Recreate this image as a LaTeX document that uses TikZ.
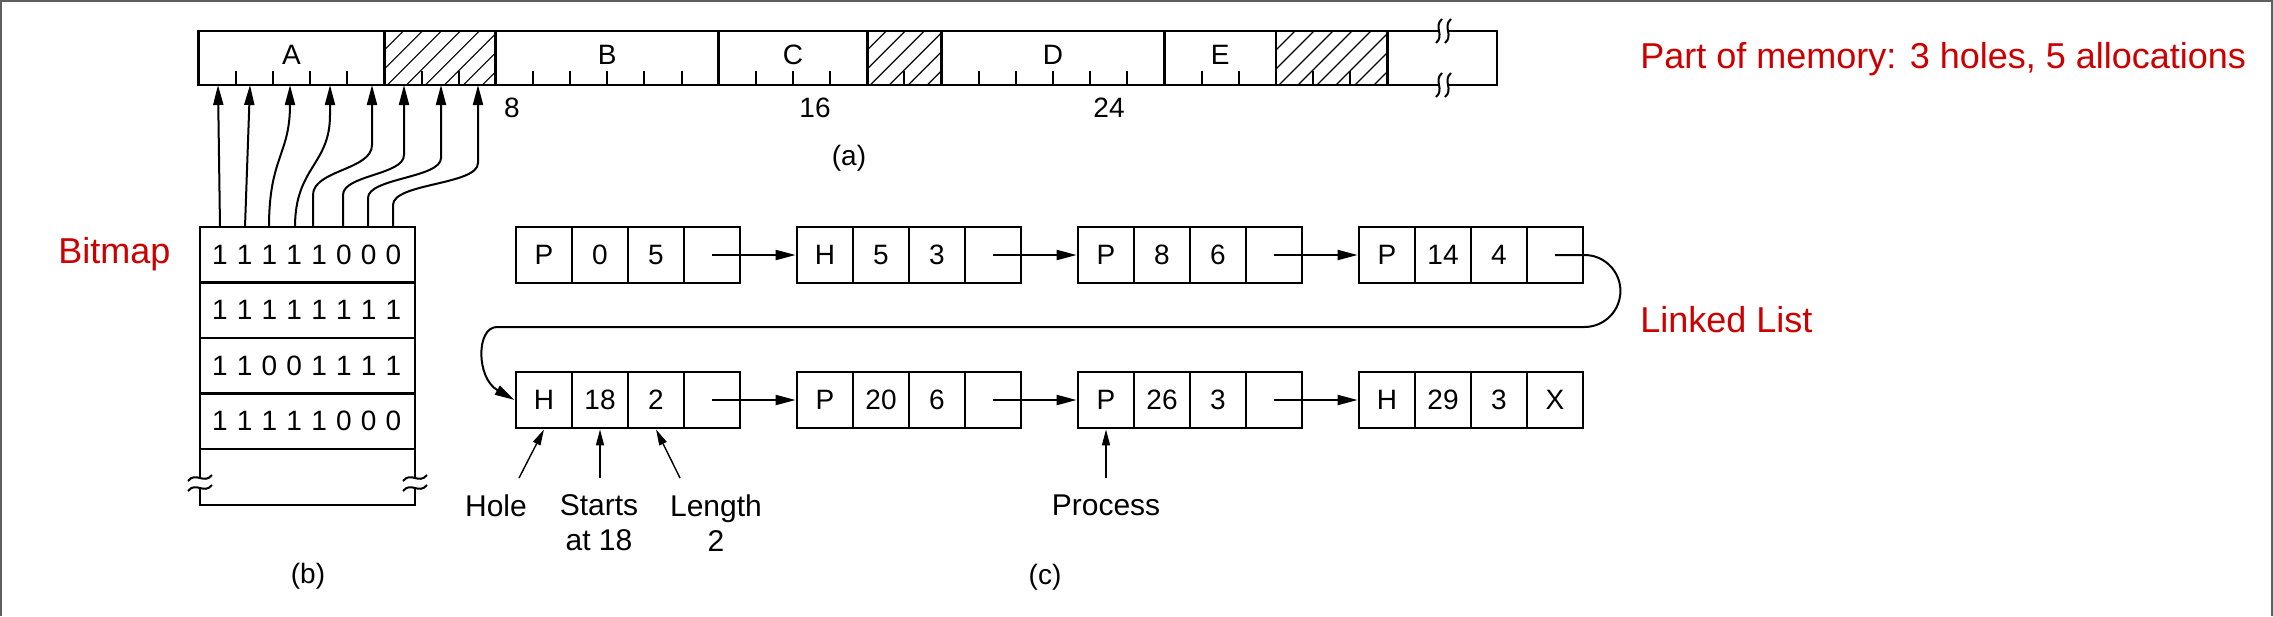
\documentclass[tikz,border=0pt]{standalone}
\usepackage{fontspec}
\setmainfont{Liberation Sans}
\usetikzlibrary{arrows.meta,calc}
\definecolor{redtxt}{RGB}{204,0,0}
\definecolor{framegray}{RGB}{95,95,95}
\begin{document}
\begin{tikzpicture}[x=0.5pt,y=-0.5pt,
  box/.style={line width=1.4pt},
  cell/.style={draw,line width=1.4pt,minimum width=28pt,minimum height=28pt,inner sep=0pt,font=\fontsize{14}{16}\selectfont},
  txt/.style={inner sep=0pt,font=\fontsize{14}{16}\selectfont},
  note/.style={inner sep=0pt,align=center,font=\fontsize{15}{17.5}\selectfont},
  redlbl/.style={inner sep=0pt,text=redtxt,font=\fontsize{18}{21}\selectfont},
  ptr/.style={line width=1pt,-{Triangle[length=10pt,width=5pt]}},
  ann/.style={line width=0.7pt,-{Triangle[length=8pt,width=4pt]}},
  tickline/.style={line width=1pt},
  hatchline/.style={line width=0.6pt},
  brk/.style={line width=1pt}
]
\useasboundingbox (0,0) rectangle (2273,616);
% frame
\draw[framegray,line width=1.2pt] (1,616) -- (1,1) -- (2272,1) -- (2272,616);

% ---------------- memory bar (a)
\def\xo{198.6}\def\un{37.15}
\foreach \a/\b in {5/8,18/20,29/32}{
  \begin{scope}
    \clip (\xo+\a*\un,31) rectangle (\xo+\b*\un,85);
    \foreach \k in {0,...,10} \draw[hatchline] (\xo+\a*\un-54+\k*19,85) -- ++(54,-54);
  \end{scope}
}
\draw[box] (\xo,31) rectangle (1497,85);
\foreach \p in {5,8,14,18,20,26,29,32} \draw[box] (\xo+\p*\un,31) -- (\xo+\p*\un,85);
\foreach \p in {1,2,3,4,6,7,9,10,11,12,13,15,16,17,19,21,22,23,24,25,27,28,30,31}
  \draw[tickline] (\xo+\p*\un,85) -- (\xo+\p*\un,71);
% break marks on the bar
\foreach \y in {31,85}{
  \draw[white,line width=2.5pt] (1439,\y) -- (1448,\y);
  \foreach \x in {1439,1448} \draw[brk] (\x+3,\y-12) .. controls (\x-6,\y-4) and (\x+6,\y+4) .. (\x-3,\y+12);
}
\node[txt] (lA) at (\xo+2.5*\un,55) {A};
\node[txt] (lB) at (\xo+11*\un,55) {B};
\node[txt] (lC) at (\xo+16*\un,55) {C};
\node[txt] (lD) at (\xo+23*\un,55) {D};
\node[txt] (lE) at (\xo+27.5*\un,55) {E};
\node[txt] (l8) at (512,108) {8};
\node[txt] (l16) at (815,108) {16};
\node[txt] (l24) at (1109,108) {24};
\node[txt] (capa) at (849,158) {(a)};

% ---------------- bitmap (b)
\draw[box] (200,227) rectangle (415,505);
\foreach \y in {282.5,338,393.5,449} \draw[box] (200,\y) -- (415,\y);
\foreach \x in {200,415}{
  \draw[white,line width=2.5pt] (\x,478) -- (\x,488);
  \foreach \y in {478,488} \draw[brk] (\x-12,\y+3) .. controls (\x-4,\y-7) and (\x+4,\y+7) .. (\x+12,\y-3);
}
\foreach \r/\yy/\bits in {1/254.75/{1,1,1,1,1,0,0,0},2/310.25/{1,1,1,1,1,1,1,1},3/365.75/{1,1,0,0,1,1,1,1},4/421.25/{1,1,1,1,1,0,0,0}}{
  \foreach \v [count=\i] in \bits
    \node[txt] (bit\r-\i) at (220+24.76*\i-24.76,\yy) {\v};
}
\node[txt] (capb) at (308,576) {(b)};
\node[redlbl,anchor=base west] (bmlbl) at (58,263) {Bitmap};

% arrows bitmap -> memory
\foreach \i/\x in {1/220,2/245,3/269,4/295,5/313,6/343,7/368,8/393} \coordinate (bt\i) at (\x,227);
\foreach \i/\x in {1/218,2/250,3/290,4/330,5/372,6/404,7/441,8/478} \coordinate (m\i) at (\x,85);
\draw[ptr] (bt1) -- (m1);
\draw[ptr] (bt2) -- (m2);
\draw[ptr] (bt3) .. controls +(0,-70) and +(0,70) .. (m3);
\draw[ptr] (bt4) .. controls +(0,-60) and +(0,50) .. ($(m4)+(0,30)$) -- (m4);
\draw[ptr] (bt5) -- ++(0,-32) .. controls +(0,-25) and +(0,25) .. ($(m5)+(0,60)$) -- (m5);
\draw[ptr] (bt6) -- ++(0,-32) .. controls +(0,-20) and +(0,20) .. ($(m6)+(0,70)$) -- (m6);
\draw[ptr] (bt7) -- ++(0,-29) .. controls +(0,-20) and +(0,20) .. ($(m7)+(0,73)$) -- (m7);
\draw[ptr] (bt8) -- ++(0,-22) .. controls +(0,-22) and +(0,22) .. ($(m8)+(0,78)$) -- (m8);

% ---------------- linked list (c)
\foreach \r/\k/\a/\b/\c in {1/1/P/0/5,1/2/H/5/3,1/3/P/8/6,1/4/P/14/4,2/1/H/18/2,2/2/P/20/6,2/3/P/26/3,2/4/H/29/3}{
  \pgfmathsetmacro{\bx}{516+281*(\k-1)}
  \pgfmathsetmacro{\by}{\r==1 ? 255 : 400}
  \node[cell] (n\r\k a) at (\bx+28,\by) {\a};
  \node[cell] (n\r\k b) at (\bx+84,\by) {\b};
  \node[cell] (n\r\k c) at (\bx+140,\by) {\c};
  \node[cell] (n\r\k d) at (\bx+196,\by) {\ifnum\r\k=24 X\fi};
}
\foreach \r in {1,2}
  \foreach \k/\kk in {1/2,2/3,3/4}
    \draw[ptr] (n\r\k d.center) -- (n\r\kk a.west);
\draw[ptr] (n14d.center) -- (n14d.east) arc[start angle=-90,end angle=90,radius=36]
  -- (497,327) .. controls (476,327) and (476,378) .. (n21a.west);

\node[note,anchor=north] (hole) at (496,494) {Hole};
\node[note,anchor=north] (starts) at (599,494) {Starts\\at 18};
\node[note,anchor=north] (length) at (716,494) {Length\\2};
\node[note,anchor=north] (proc) at (1106,494) {Process};
\draw[ann] ($(hole.north)+(23,-16)$) -- (n21a.south);
\draw[ann] ($(starts.north)+(1,-16)$) -- (n21b.south);
\draw[ann] ($(length.north)+(-36,-16)$) -- (n21c.south);
\draw[ann] ($(proc.north)+(0,-16)$) -- (n23a.south);
\node[txt] (capc) at (1045,577) {(c)};

% red annotations
\node[redlbl,anchor=base west] (partlbl) at (1640,68) {Part of memory: 3 holes, 5 allocations};
\node[redlbl,anchor=base west] (lllbl) at (1640,332) {Linked List};
\end{tikzpicture}
\end{document}
